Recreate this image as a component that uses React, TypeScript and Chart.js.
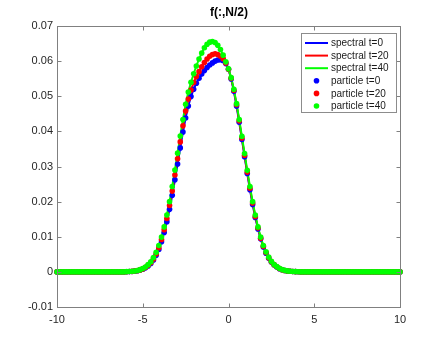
import React, { useEffect, useRef } from "react";
import { Chart, registerables } from "chart.js";

Chart.register(...registerables);

// ---- data ----
const X_START = -10;
const X_STEP = 0.15625; // 128 cells on [-10, 10]

const zerosLeft = [
  0, 0, 0, 0, 0, 0, 0, 0, 0, 0, 0, 0, 0,
  0, 0, 0, 0, 0, 0, 0, 0, 0, 0, 0, 0, 0,
];
const zerosRight = [
  0, 0, 0, 0, 0, 0, 0, 0, 0, 0, 0, 0, 0,
  0, 0, 0, 0, 0, 0, 0, 0, 0, 0, 0, 0, 0,
  0, 0, 0, 0, 0, 0, 0, 0, 0, 0, 0, 0,
];

const spectralT0 = [
  ...zerosLeft,
  0.00004, 0.00008, 0.00012, 0.0002, 0.00032, 0.0005, 0.00076, 0.00114, 0.00168, 0.0024,
  0.0034, 0.0047, 0.0064, 0.0086, 0.0112, 0.0143, 0.0178, 0.0218, 0.0262, 0.0307,
  0.0353, 0.0398, 0.0438, 0.0472, 0.0499, 0.052, 0.0537, 0.0551, 0.0563, 0.0573,
  0.0582, 0.0589, 0.0595, 0.06, 0.0603, 0.0604, 0.0601, 0.0593, 0.0577, 0.0549,
  0.0514, 0.0472, 0.0426, 0.0377, 0.0328, 0.028, 0.0234, 0.0192, 0.0155, 0.0122,
  0.0094, 0.0071, 0.0053, 0.0039, 0.0028, 0.002, 0.0014, 0.0009, 0.0006, 0.0004,
  0.00025, 0.00016, 0.0001, 0.00006, 0.00003,
  ...zerosRight,
];

const spectralT20 = [
  ...zerosLeft,
  0.00005, 0.00009, 0.00014, 0.00023, 0.00036, 0.00056, 0.00085, 0.00127, 0.00186, 0.0026,
  0.0037, 0.0051, 0.0069, 0.0092, 0.012, 0.0152, 0.0189, 0.023, 0.0276, 0.0322,
  0.037, 0.0416, 0.0458, 0.0492, 0.0518, 0.0539, 0.0556, 0.057, 0.0584, 0.0596,
  0.0606, 0.0614, 0.0619, 0.0621, 0.0619, 0.0614, 0.0607, 0.0595, 0.0577, 0.0551,
  0.0517, 0.0476, 0.043, 0.0381, 0.0332, 0.0284, 0.0238, 0.0196, 0.0158, 0.0125,
  0.0096, 0.0073, 0.0055, 0.004, 0.0029, 0.00205, 0.00145, 0.00095, 0.00062, 0.0004,
  0.00026, 0.00017, 0.0001, 0.00006, 0.00003,
  ...zerosRight,
];

const spectralT40 = [
  ...zerosLeft,
  0.00006, 0.0001, 0.00016, 0.00026, 0.0004, 0.00063, 0.00095, 0.0014, 0.00205, 0.0029,
  0.0041, 0.0056, 0.0075, 0.0099, 0.0128, 0.0162, 0.02, 0.0243, 0.029, 0.0338,
  0.0387, 0.0434, 0.0477, 0.0512, 0.054, 0.0564, 0.0586, 0.0606, 0.0623, 0.0638,
  0.0648, 0.0654, 0.0656, 0.0653, 0.0645, 0.0633, 0.0617, 0.0598, 0.0578, 0.0553,
  0.052, 0.0479, 0.0434, 0.0386, 0.0337, 0.0289, 0.0243, 0.02, 0.0162, 0.0128,
  0.0099, 0.0075, 0.0057, 0.0042, 0.003, 0.0021, 0.0015, 0.001, 0.00065, 0.00043,
  0.00028, 0.00018, 0.00011, 0.00007, 0.00004,
  ...zerosRight,
];

const particleT0 = spectralT0;
const particleT20 = spectralT20;
const particleT40 = spectralT40;

const xValues = spectralT0.map((_, i) => X_START + i * X_STEP);

const seriesLabels = [
  "spectral t=0",
  "spectral t=20",
  "spectral t=40",
  "particle t=0",
  "particle t=20",
  "particle t=40",
];
const seriesColors = ["#0000ff", "#ff0000", "#00ff00", "#0000ff", "#ff0000", "#00ff00"];

const xTicks = [-10, -5, 0, 5, 10];
const yTicks = [-0.01, 0, 0.01, 0.02, 0.03, 0.04, 0.05, 0.06, 0.07];
const titleText = "f(:,N/2)";

const FONT = '"Liberation Sans", Arial, Helvetica, sans-serif';
const AXIS_COLOR = "#808080";
const TEXT_COLOR = "#262626";

const toPoints = (ys: number[]) => ys.map((y, i) => ({ x: xValues[i], y }));

const framePlugin = {
  id: "matlabFrame",
  afterDraw(chart: any) {
    const ctx = chart.ctx as CanvasRenderingContext2D;
    const area = chart.chartArea;
    const L = Math.round(area.left) + 0.5;
    const R = Math.round(area.right) + 0.5;
    const T = Math.round(area.top) + 0.5;
    const B = Math.round(area.bottom) + 0.5;
    ctx.save();
    // frame
    ctx.strokeStyle = AXIS_COLOR;
    ctx.lineWidth = 1;
    ctx.strokeRect(L, T, R - L, B - T);
    // inward ticks
    const tl = 4;
    ctx.beginPath();
    for (const v of xTicks) {
      const px = Math.round(chart.scales.x.getPixelForValue(v)) + 0.5;
      ctx.moveTo(px, B);
      ctx.lineTo(px, B - tl);
      ctx.moveTo(px, T);
      ctx.lineTo(px, T + tl);
    }
    for (const v of yTicks) {
      const py = Math.round(chart.scales.y.getPixelForValue(v)) + 0.5;
      ctx.moveTo(L, py);
      ctx.lineTo(L + tl, py);
      ctx.moveTo(R, py);
      ctx.lineTo(R - tl, py);
    }
    ctx.stroke();

    // title
    ctx.fillStyle = "#000";
    ctx.font = `bold 12px ${FONT}`;
    ctx.textAlign = "center";
    ctx.textBaseline = "middle";
    ctx.fillText(titleText, (L + R) / 2, 13);

    // legend
    ctx.font = `10px ${FONT}`;
    ctx.textAlign = "left";
    let maxW = 0;
    for (const s of seriesLabels) maxW = Math.max(maxW, ctx.measureText(s).width);
    const boxW = Math.round(3.5 + 23 + 3 + maxW + 8);
    const boxH = 79;
    const boxR = R - 4;
    const boxL = boxR - boxW;
    const boxT = T + 7;
    ctx.fillStyle = "#ffffff";
    ctx.fillRect(boxL, boxT, boxW, boxH);
    ctx.strokeStyle = "#8c8c8c";
    ctx.strokeRect(boxL, boxT, boxW, boxH);
    const datasets = chart.data.datasets;
    for (let i = 0; i < datasets.length; i++) {
      const ds = datasets[i];
      const cy = boxT + 9.5 + i * 12.6;
      const lx0 = boxL + 3.5;
      const lx1 = lx0 + 23;
      if (ds.showLine) {
        ctx.strokeStyle = ds.borderColor;
        ctx.lineWidth = 2;
        ctx.beginPath();
        ctx.moveTo(lx0, cy);
        ctx.lineTo(lx1, cy);
        ctx.stroke();
      } else {
        ctx.fillStyle = ds.backgroundColor;
        ctx.beginPath();
        ctx.arc((lx0 + lx1) / 2, cy, 2.8, 0, Math.PI * 2);
        ctx.fill();
      }
      ctx.fillStyle = "#1a1a1a";
      ctx.textBaseline = "middle";
      ctx.fillText(ds.label, lx1 + 3, cy + 0.5);
    }
    ctx.restore();
  },
};

export default function App() {
  const canvasRef = useRef<HTMLCanvasElement | null>(null);

  useEffect(() => {
    const canvas = canvasRef.current;
    if (!canvas) return;
    const spectral = [spectralT0, spectralT20, spectralT40];
    const particle = [particleT0, particleT20, particleT40];
    const datasets: any[] = [];
    spectral.forEach((ys, k) => {
      datasets.push({
        label: seriesLabels[k],
        data: toPoints(ys),
        showLine: true,
        borderColor: seriesColors[k],
        backgroundColor: seriesColors[k],
        borderWidth: 2,
        pointRadius: 0,
        tension: 0,
        order: 6 - k,
      });
    });
    particle.forEach((ys, k) => {
      datasets.push({
        label: seriesLabels[k + 3],
        data: toPoints(ys),
        showLine: false,
        borderColor: seriesColors[k + 3],
        backgroundColor: seriesColors[k + 3],
        borderWidth: 0,
        pointRadius: 2.8,
        pointHoverRadius: 2.8,
        clip: false,
        order: 3 - k,
      });
    });

    const chart = new Chart(canvas, {
      type: "scatter",
      data: { datasets },
      options: {
        responsive: false,
        animation: false,
        devicePixelRatio: 1,
        layout: { padding: { top: 26, right: 43, bottom: 0, left: 0 } },
        plugins: {
          legend: { display: false },
          title: { display: false },
          tooltip: { enabled: false },
        },
        scales: {
          x: {
            type: "linear",
            min: -10,
            max: 10,
            afterFit: (s: any) => {
              s.height = 39;
            },
            afterBuildTicks: (s: any) => {
              s.ticks = xTicks.map((v) => ({ value: v }));
            },
            ticks: {
              font: { family: FONT, size: 11 },
              color: TEXT_COLOR,
              padding: 6,
              maxRotation: 0,
              autoSkip: false,
              callback: (v: any) => String(v),
            },
            grid: { display: false, drawTicks: false },
            border: { display: false },
          },
          y: {
            type: "linear",
            min: -0.01,
            max: 0.07,
            afterFit: (s: any) => {
              s.width = 57;
            },
            afterBuildTicks: (s: any) => {
              s.ticks = yTicks.map((v) => ({ value: v }));
            },
            ticks: {
              font: { family: FONT, size: 11 },
              color: TEXT_COLOR,
              padding: 4,
              autoSkip: false,
              callback: (v: any) => String(Math.round(Number(v) * 100) / 100),
            },
            grid: { display: false, drawTicks: false },
            border: { display: false },
          },
        },
      } as any,
      plugins: [framePlugin],
    });
    return () => chart.destroy();
  }, []);

  return (
    <div style={{ position: "fixed", left: 0, top: 0, width: 443, height: 346, background: "#fff" }}>
      <canvas ref={canvasRef} width={443} height={346} style={{ display: "block" }} />
    </div>
  );
}
